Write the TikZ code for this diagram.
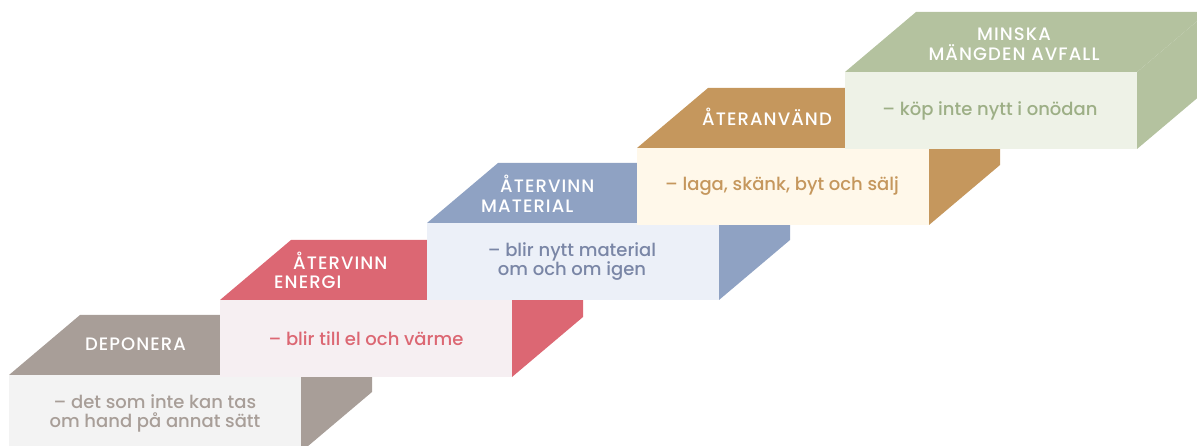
\documentclass[tikz,border=0pt]{standalone}
\usepackage{fontspec}
\newfontfamily\bodyfont{Poppins Medium}
\newfontfamily\labelfont[LetterSpace=6]{Poppins Medium}
\definecolor{gdark}{HTML}{A89E98}\definecolor{glight}{HTML}{F3F3F3}\definecolor{gtext}{HTML}{A89E98}
\definecolor{rdark}{HTML}{DC6773}\definecolor{rlight}{HTML}{F6EFF2}\definecolor{rtext}{HTML}{DC6773}
\definecolor{bdark}{HTML}{8FA2C3}\definecolor{blight}{HTML}{ECF0F8}\definecolor{btext}{HTML}{7A86A6}
\definecolor{tdark}{HTML}{C5975D}\definecolor{tlight}{HTML}{FFF8EA}\definecolor{ttext}{HTML}{C5975D}
\definecolor{sdark}{HTML}{B4C29F}\definecolor{slight}{HTML}{EEF2E7}\definecolor{stext}{HTML}{9DAF86}
\newcommand\stairblock[4]{%
  \fill[#3] (#1,#2) -- ++(71,-60) -- ++(292,0) -- ++(-71,60) -- cycle;
  \fill[#3] (#1+292,#2) -- ++(71,-60) -- ++(0,77) -- ++(-71,60) -- cycle;
  \fill[#4] (#1,#2) rectangle ++(292,77);
}
\tikzset{
  lbl/.style={text=white, font=\labelfont\fontsize{18}{19.5}\selectfont, inner sep=0pt},
  body/.style={font=\bodyfont\fontsize{18}{19}\selectfont, align=center, inner sep=0pt},
}
\begin{document}
\begin{tikzpicture}[x=1pt,y=-1pt]
\useasboundingbox (0,0) rectangle (1197,446);
\clip (0,0) rectangle (1197,446);
% step 1
\stairblock{9}{375}{gdark}{glight}
\node[lbl] (l1) at (135.5,344) {DEPONERA};
\node[body, text=gtext] (b1) at (155,413) {– det som inte kan tas\\om hand på annat sätt};
% step 2
\stairblock{220}{300}{rdark}{rlight}
\node[lbl, anchor=west, align=left] (l2) at (274,270.5) {\hspace*{19pt}ÅTERVINN\\ENERGI};
\node[body, text=rtext] (b2) at (366,338.5) {– blir till el och värme};
% step 3
\stairblock{427}{223}{bdark}{blight}
\node[lbl, anchor=west, align=left] (l3) at (481,194) {\hspace*{19pt}ÅTERVINN\\MATERIAL};
\node[body, text=btext] (b3) at (572,261.5) {– blir nytt material\\om och om igen};
% step 4
\stairblock{637}{148}{tdark}{tlight}
\node[lbl] (l4) at (767,117) {ÅTERANVÄND};
\node[body, text=ttext] (b4) at (782,186.5) {– laga, skänk, byt och sälj};
% step 5
\stairblock{845}{72}{sdark}{slight}
\node[lbl, align=center] (l5) at (1014,44) {MINSKA\\MÄNGDEN AVFALL};
\node[body, text=stext] (b5) at (990,110.5) {– köp inte nytt i onödan};
\end{tikzpicture}
\end{document}
